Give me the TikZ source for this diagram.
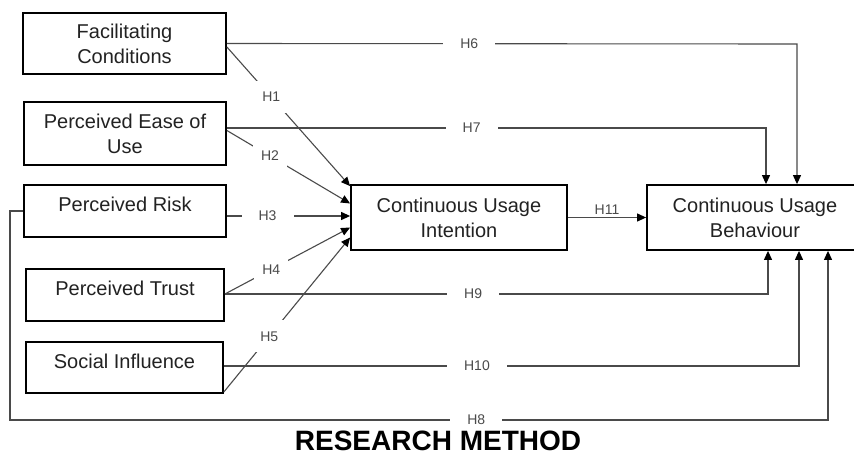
\documentclass[tikz,border=0pt]{standalone}
\usepackage{fontspec}
\setmainfont{Liberation Sans}
\usetikzlibrary{arrows.meta}
\definecolor{lin}{HTML}{4A4A4A}
\definecolor{txt}{HTML}{222222}
\begin{document}
\begin{tikzpicture}[x=1pt,y=-1pt,
  box/.style={draw=black, line width=1.8pt, fill=white, font=\fontsize{20}{25}\selectfont, text=txt, align=center, inner sep=0pt},
  con/.style={draw=lin, line width=1.1pt},
  arr/.style={con, -{Triangle[length=9pt,width=8pt,color=black]}},
  lbl/.style={font=\fontsize{14}{16}\selectfont, text=lin},
  hl/.style={lbl, fill=white, inner xsep=17pt, inner ysep=3pt},
  dl/.style={lbl, fill=white, inner xsep=8pt, inner ysep=11pt}]
\useasboundingbox (0,0) rectangle (854,466);

% boxes
\node[box, minimum width=203pt, minimum height=61pt] (fc) at (124.5,43.5) {Facilitating\\Conditions};
\node[box, minimum width=202pt, minimum height=63pt] (peu) at (125,133.5) {Perceived Ease of\\Use};
\node[box, minimum width=202pt, minimum height=52pt] (pr) at (125,211) {\raisebox{6.5pt}[\height][\depth]{Perceived Risk}};
\node[box, minimum width=198pt, minimum height=52pt] (pt) at (125,295) {\raisebox{6.5pt}[\height][\depth]{Perceived Trust}};
\node[box, minimum width=197pt, minimum height=51pt] (si) at (124.5,367.5) {\raisebox{6.5pt}[\height][\depth]{Social Influence}};
\node[box, minimum width=216pt, minimum height=65pt] (cui) at (459,217.5) {Continuous Usage\\Intention};
\node[box, minimum width=216pt, minimum height=65pt] (cub) at (755,217.5) {Continuous Usage\\Behaviour};

% corner coordinates
\coordinate (c6) at (797,44);
\coordinate (c7) at (766,128);
\coordinate (c9) at (768,294);
\coordinate (c10) at (799,366);
\coordinate (c8a) at (10,211);
\coordinate (c8b) at (10,420);
\coordinate (c8c) at (828,420);

% direct effects on CUB
\draw[arr] (fc.east) -- node[hl,pos=0.425]{H6} (c6) -- (c6 |- cub.north);
\draw[arr] ([yshift=5.5pt]peu.east) -- node[hl,pos=0.454]{H7} (c7) -- (c7 |- cub.north);
\draw[arr] ([yshift=1pt]pt.east) -- node[hl,pos=0.457]{H9} (c9) -- (c9 |- cub.south);
\draw[arr] ([yshift=1.5pt]si.east) -- node[hl,pos=0.44]{H10} (c10) -- (c10 |- cub.south);
\draw[arr] (pr.west) -- (c8a) -- (c8b) -- node[hl,pos=0.57]{H8} (c8c) -- (c8c |- cub.south);

% effects on CUI
\draw[arr] ([yshift=-3.5pt]fc.east) -- node[dl,pos=0.36]{H1} ([yshift=-2pt]cui.north west);
\draw[arr] ([yshift=3pt]peu.east) -- node[dl,pos=0.35]{H2} ([yshift=14pt]cui.west);
\draw[arr] ([yshift=-5pt]pr.east) -- node[hl,pos=0.33]{H3} ([yshift=1.5pt]cui.west);
\draw[arr] ([yshift=1pt]pt.east) -- node[dl,pos=0.37]{H4} ([yshift=-10pt]cui.west);
\draw[arr] ([yshift=2pt]si.south east) -- node[dl,pos=0.36]{H5} ([yshift=-20pt]cui.west);

% CUI -> CUB
\draw[arr] (cui.east) -- node[lbl, above, inner sep=2pt]{H11} (cub.west);

% title
\node[font=\fontsize{28}{34}\selectfont\bfseries, anchor=base] (title) at (438,450) {RESEARCH METHOD};
\end{tikzpicture}
\end{document}
